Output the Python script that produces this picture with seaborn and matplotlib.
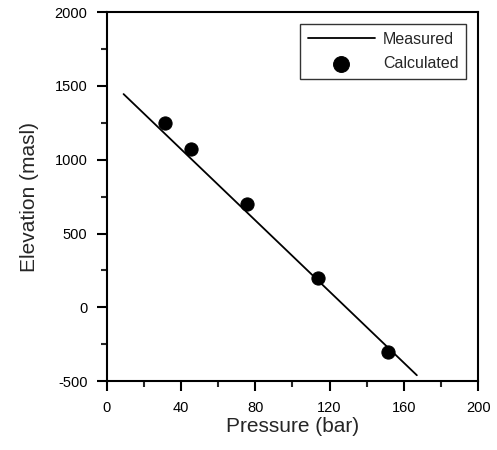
import pandas as pd
import seaborn as sns
import matplotlib.pyplot as plt
from matplotlib.ticker import MultipleLocator

# measured trend line (end points)
measured_pressure = [9, 167]
measured_elevation = [1445, -460]

# calculated points
calc_pressure = [31.5, 45.5, 75.5, 114, 151.5]
calc_elevation = [1250, 1075, 700, 200, -300]

x_ticks = [0, 40, 80, 120, 160, 200]
y_ticks = [-500, 0, 500, 1000, 1500, 2000]

sns.set_theme(style="ticks")
plt.rcParams["font.family"] = ["Liberation Sans", "DejaVu Sans"]
plt.rcParams["axes.unicode_minus"] = False

df_line = pd.DataFrame({"p": measured_pressure, "e": measured_elevation})
df_pts = pd.DataFrame({"p": calc_pressure, "e": calc_elevation})

fig = plt.figure(figsize=(4.97, 4.5), dpi=100)
ax = fig.add_axes([0.215, 0.153, 0.747, 0.82])

sns.lineplot(x="p", y="e", data=df_line, ax=ax, color="black", linewidth=1.3,
             label="Measured")
sns.scatterplot(x="p", y="e", data=df_pts, ax=ax, color="black", s=90,
                edgecolor="black", label="Calculated", zorder=3)

ax.set_xlim(0, 200)
ax.set_ylim(-500, 2000)
ax.set_xticks(x_ticks)
ax.set_yticks(y_ticks)
ax.xaxis.set_minor_locator(MultipleLocator(20))
ax.yaxis.set_minor_locator(MultipleLocator(250))
ax.tick_params(which="major", direction="out", length=7, width=1.5,
               labelsize=10.5, colors="black", pad=7)
ax.tick_params(which="minor", direction="out", length=4, width=1.5)
for s in ax.spines.values():
    s.set_linewidth(1.5)
    s.set_color("black")

ax.set_xlabel("Pressure (bar)", fontsize=15, labelpad=2)
ax.set_ylabel("Elevation (masl)", fontsize=15, labelpad=11)

leg = ax.legend(loc="upper right", fontsize=11.5, frameon=True, fancybox=False,
                edgecolor="black", handlelength=4.2, handletextpad=0.5,
                borderpad=0.5, labelspacing=0.6, markerscale=1.2,
                bbox_to_anchor=(0.99, 0.99))
leg.get_frame().set_linewidth(1.0)

fig.savefig("out.png", dpi=100)
